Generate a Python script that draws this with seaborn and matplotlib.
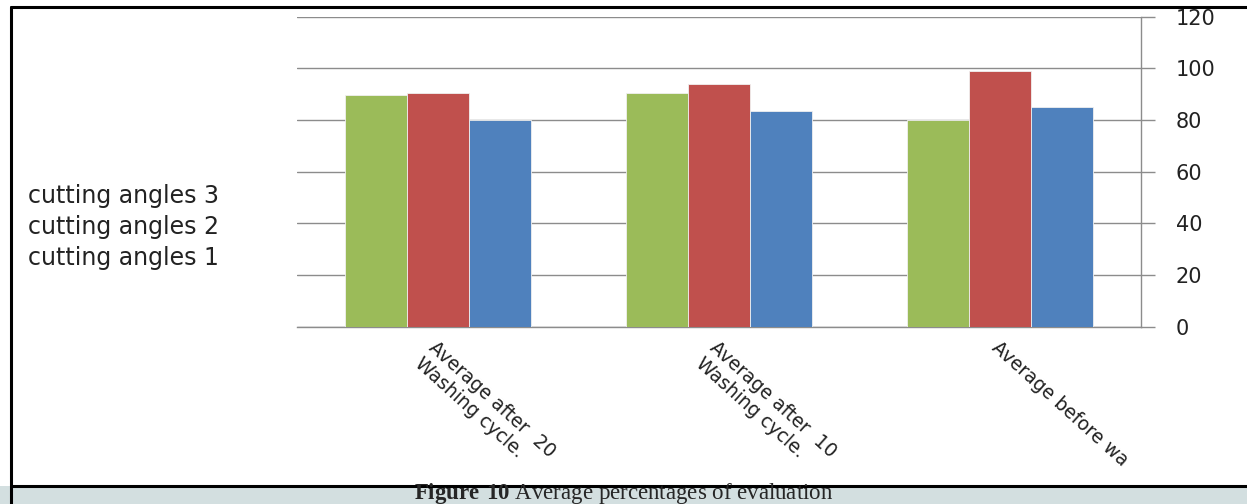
import pandas as pd
import numpy as np
import matplotlib.pyplot as plt
import seaborn as sns
from matplotlib.patches import Rectangle

# values
categories = ["Average after  20\nWashing cycle.", "Average after  10\nWashing cycle.", "Average before wa"]
series = ["cutting angles 3", "cutting angles 2", "cutting angles 1"]
angles3 = [89.7, 90.3, 80.0]
angles2 = [90.3, 94.0, 99.0]
angles1 = [80.0, 83.6, 84.9]
colors = ["#9BBB59", "#C0504D", "#4F81BD"]
yticks = [0, 20, 40, 60, 80, 100, 120]

data = pd.DataFrame({
    "category": categories * 3,
    "series": [series[0]] * 3 + [series[1]] * 3 + [series[2]] * 3,
    "value": angles3 + angles2 + angles1,
})

sns.set_style("white")
plt.rcParams["mathtext.fontset"] = "custom"
plt.rcParams["mathtext.bf"] = "Liberation Serif:bold"
plt.rcParams["mathtext.rm"] = "Liberation Serif"

W, H = 1247, 504
fig = plt.figure(figsize=(W / 100, H / 100), dpi=100)
ax = fig.add_axes([297 / W, 1 - 326.7 / H, (1141 - 297) / W, (326.7 - 16.7) / H])

sns.barplot(data=data, x="category", y="value", hue="series", order=categories,
            hue_order=series, palette=colors, width=0.662, saturation=1,
            edgecolor="#f0f0f0", linewidth=0.6, ax=ax, zorder=3)

ax.set_ylim(0, 120)
ax.set_xlim(-0.5, 2.5)
ax.set_yticks(yticks)
ax.yaxis.tick_right()
ax.yaxis.grid(True, color="#8c8c8c", linewidth=1)
ax.set_axisbelow(True)
ax.tick_params(axis="y", which="major", length=10, color="#8c8c8c", width=1,
               labelsize=15, pad=15, labelcolor="#222222")
for lbl in ax.get_yticklabels():
    lbl.set_horizontalalignment("left")

# category boundary ticks on the bottom axis
ax.set_xticks([-0.5, 0.5, 1.5, 2.5], minor=True)
ax.tick_params(axis="x", which="minor", length=8, color="#8c8c8c", width=1)
ax.tick_params(axis="x", which="major", length=0, labelsize=13.5, pad=8)
ax.set_xticks(range(3))
ax.set_xticklabels(categories, rotation=-42, ha="left", va="top",
                   rotation_mode="anchor", color="#222222", linespacing=1.15)
ax.set_xlabel("")
ax.set_ylabel("")

for side in ["top", "left"]:
    ax.spines[side].set_visible(False)
for side in ["right", "bottom"]:
    ax.spines[side].set_color("#8c8c8c")
    ax.spines[side].set_linewidth(1)

# legend: text only, placed on the left
handles, labels = ax.get_legend_handles_labels()
leg = ax.legend(handles, labels, loc="upper left", bbox_to_anchor=(7 / W, 1 - 163 / H),
                bbox_transform=fig.transFigure, frameon=False, handlelength=0,
                handletextpad=0, fontsize=17, labelspacing=0.3, labelcolor="#222222")
for h in leg.legend_handles:
    h.set_visible(False)

# outer frame and caption strip
fig.patches.append(Rectangle((0, 0), 1, 18 / H, transform=fig.transFigure,
                             facecolor="#D3DFE0", edgecolor="none", zorder=0))
fig.add_artist(plt.Line2D([11 / W, 1], [1 - 7 / H, 1 - 7 / H], color="black", lw=2.2))
fig.add_artist(plt.Line2D([11 / W, 11 / W], [0, 1 - 7 / H], color="black", lw=2.2))
fig.add_artist(plt.Line2D([11 / W, 1], [18 / H, 18 / H], color="black", lw=2.2))

fig.text(0.5, 5 / H, r"$\mathbf{Figure\ 10}$ Average percentages of evaluation",
         ha="center", va="baseline", fontsize=16.5, family="Liberation Serif")
fig.savefig("out.png", dpi=100)
